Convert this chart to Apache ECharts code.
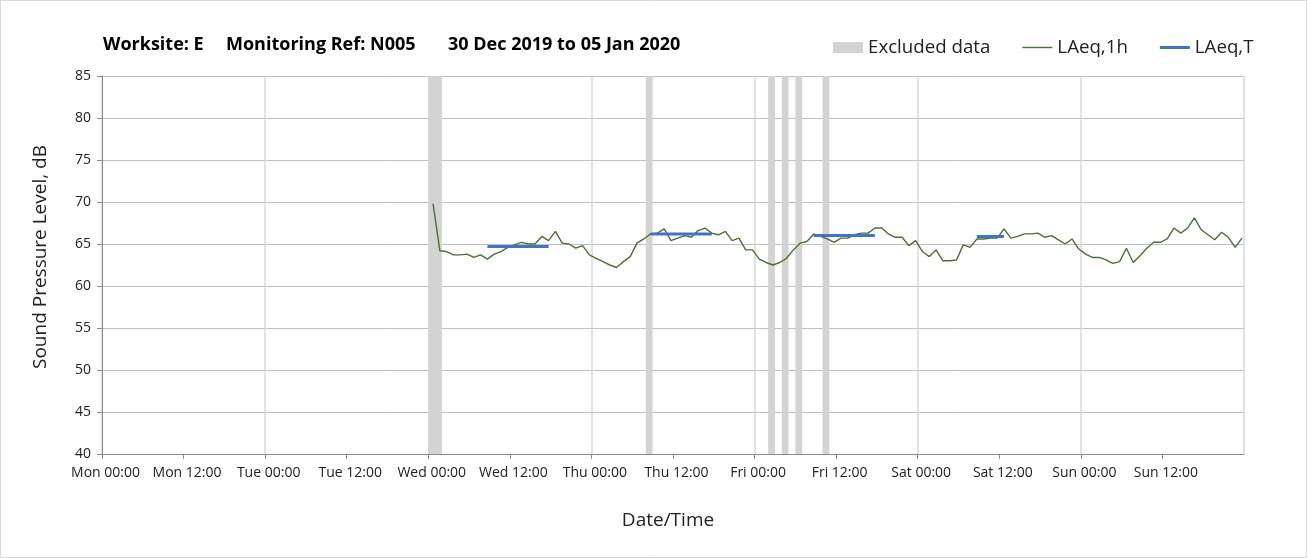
<!DOCTYPE html>
<html>
<head>
<meta charset="utf-8">
<script src="https://cdn.jsdelivr.net/npm/echarts@6/dist/echarts.min.js"></script>
<style>
html,body{margin:0;padding:0;background:#fff;}
#chart{width:1307px;height:558px;}
</style>
</head>
<body>
<div id="chart"></div>
<script>
// Hours counted from Mon 30 Dec 2019 00:00
const dayNames = ['Mon','Tue','Wed','Thu','Fri','Sat','Sun','Mon'];
const titleParts = ['Worksite: E', 'Monitoring Ref: N005', '30 Dec 2019 to 05 Jan 2020'];

// LAeq,1h hourly values, first reading at hour 48.7 (Wed ~00:42), one per hour
const laeq1hStart = 48.7;
const laeq1h = [
  69.8, 64.2, 64.1, 63.7, 63.7, 63.8, 63.4, 63.7, 63.2, 63.8,
  64.1, 64.6, 64.9, 65.2, 65.0, 65.0, 65.9, 65.4, 66.5, 65.1,
  65.0, 64.5, 64.8, 63.7, 63.3, 62.9, 62.5, 62.2, 62.9, 63.5,
  65.1, 65.6, 66.2, 66.3, 66.8, 65.4, 65.7, 66.0, 65.8, 66.6,
  66.9, 66.3, 66.1, 66.5, 65.4, 65.7, 64.3, 64.3, 63.2, 62.8,
  62.5, 62.8, 63.3, 64.3, 65.1, 65.3, 66.2, 65.9, 65.6, 65.2,
  65.7, 65.7, 66.1, 66.3, 66.3, 66.9, 66.9, 66.2, 65.8, 65.8,
  64.8, 65.4, 64.1, 63.5, 64.3, 63.0, 63.0, 63.1, 64.9, 64.6,
  65.6, 65.6, 65.7, 65.7, 66.8, 65.7, 65.9, 66.2, 66.2, 66.3,
  65.8, 66.0, 65.5, 65.0, 65.6, 64.4, 63.8, 63.4, 63.4, 63.1,
  62.7, 62.9, 64.5, 62.8, 63.6, 64.5, 65.2, 65.2, 65.6, 66.9,
  66.3, 66.9, 68.1, 66.7, 66.1, 65.5, 66.4, 65.8, 64.6, 65.7
];

// LAeq,T periods: [startHour, endHour, level]
const laeqT = [
  [56.7, 65.7, 64.7],
  [80.7, 89.7, 66.2],
  [104.7, 113.7, 66.0],
  [128.7, 132.7, 65.9]
];

// Excluded data periods: [startHour, endHour]
const excluded = [
  [48, 50], [80, 81], [98, 99], [100, 101], [102, 103], [106, 107]
];

const lineData = laeq1h.map((v, i) => [laeq1hStart + i, v]);
const tData = [];
laeqT.forEach((p, i) => {
  if (i > 0) tData.push([p[0] - 0.5, '-']);
  tData.push([p[0], p[2]]);
  tData.push([p[1], p[2]]);
});
const areaData = excluded.map(e => [{xAxis: e[0]}, {xAxis: e[1]}]);

const font = "'Open Sans', 'Liberation Sans', sans-serif";
const titleStyle = {fontSize: 18, fontWeight: 'bold', color: '#000', fontFamily: font};
const chart = echarts.init(document.getElementById('chart'), null, {renderer: 'canvas'});
chart.setOption({
  animation: false,
  backgroundColor: '#fff',
  textStyle: {fontFamily: font},
  graphic: [{
    type: 'rect', silent: true, z: -10,
    shape: {x: 0.5, y: 0.5, width: 1306, height: 557},
    style: {fill: 'none', stroke: '#d9d9d9', lineWidth: 1}
  }],
  title: [
    {text: titleParts[0], left: 103, top: 36, padding: 0, textStyle: titleStyle},
    {text: titleParts[1], left: 226, top: 36, padding: 0, textStyle: titleStyle},
    {text: titleParts[2], left: 448, top: 36, padding: 0, textStyle: titleStyle}
  ],
  legend: {
    left: 833, top: 38, padding: 0,
    itemWidth: 30, itemHeight: 11, itemGap: 32,
    textStyle: {fontSize: 18.7, color: '#222', fontFamily: font},
    data: [
      {name: 'Excluded data', icon: 'rect', itemStyle: {color: '#d3d3d3'}},
      {name: 'LAeq,1h', icon: 'path://M0,0 L30,0 L30,1.4 L0,1.4 Z', itemStyle: {color: '#4e6f33'}},
      {name: 'LAeq,T', icon: 'path://M0,0 L30,0 L30,3 L0,3 Z', itemStyle: {color: '#4472c4'}}
    ]
  },
  grid: {left: 102, right: 63, top: 76, bottom: 104},
  xAxis: [{
    type: 'value', min: 0, max: 168, interval: 12,
    name: 'Date/Time', nameLocation: 'middle', nameGap: 57,
    nameTextStyle: {fontSize: 19, color: '#222', fontFamily: font, padding: [0, 10, 0, 0]},
    axisLine: {show: true, lineStyle: {color: '#8c8c8c', width: 1}},
    axisTick: {show: true, length: 5, lineStyle: {color: '#8c8c8c'}},
    splitLine: {show: false},
    axisLabel: {
      fontSize: 14, color: '#222', margin: 12, fontFamily: font,
      padding: [0, 0, 0, 7],
      alignMinLabel: 'center', alignMaxLabel: 'center',
      showMaxLabel: false,
      formatter: v => v >= 168 ? '' : dayNames[Math.floor(v / 24)] + ' ' + (v % 24 === 0 ? '00:00' : '12:00')
    }
  }, {
    type: 'value', min: 0, max: 168, interval: 24, position: 'bottom',
    axisLine: {show: false}, axisTick: {show: false}, axisLabel: {show: false},
    splitLine: {show: true, lineStyle: {color: '#d9d9d9', width: 1.5}}
  }],
  yAxis: {
    type: 'value', min: 40, max: 85, interval: 5,
    name: 'Sound Pressure Level, dB', nameLocation: 'middle', nameGap: 52,
    nameTextStyle: {fontSize: 19, color: '#222', fontFamily: font, padding: [0, 0, 0, 16]},
    axisLine: {show: true, lineStyle: {color: '#8c8c8c', width: 1}},
    axisTick: {show: true, length: 5, lineStyle: {color: '#8c8c8c'}},
    axisLabel: {fontSize: 14, color: '#222', margin: 11, fontFamily: font},
    splitLine: {show: true, lineStyle: {color: '#c0c0c0', width: 1}}
  },
  series: [{
    name: 'Excluded data', type: 'line', data: [], xAxisIndex: 0,
    itemStyle: {color: '#d3d3d3'},
    markArea: {silent: true, itemStyle: {color: '#d3d3d3', opacity: 1}, data: areaData},
    z: 1
  }, {
    name: 'LAeq,1h', type: 'line', data: lineData, xAxisIndex: 0,
    symbol: 'none', showSymbol: false,
    lineStyle: {color: '#4e6f33', width: 1.4},
    itemStyle: {color: '#4e6f33'},
    z: 3
  }, {
    name: 'LAeq,T', type: 'line', data: tData, xAxisIndex: 0,
    symbol: 'none', showSymbol: false, connectNulls: false,
    lineStyle: {color: '#4472c4', width: 3},
    itemStyle: {color: '#4472c4'},
    z: 4
  }]
});
</script>
</body>
</html>
